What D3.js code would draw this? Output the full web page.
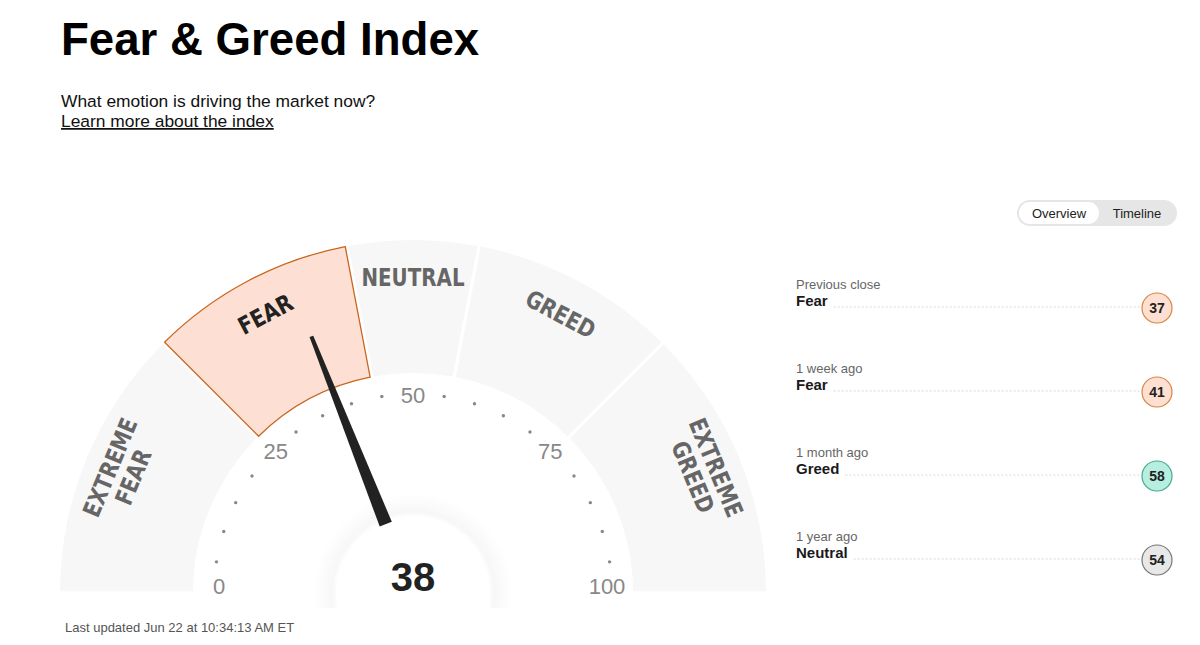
<!DOCTYPE html>
<html>
<head>
<meta charset="utf-8">
<title>Fear & Greed Index</title>
<script src="https://d3js.org/d3.v7.min.js"></script>
<style>
  body { margin: 0; background: #fff; font-family: "Liberation Sans", Arial, sans-serif; }
  svg { display: block; }
  .zone-label { font-family: "DejaVu Sans Condensed", "DejaVu Sans", sans-serif; font-stretch: condensed; font-weight: bold; }
</style>
</head>
<body>
<div id="chart"></div>
<script>
// ---- data ----
const zoneNames = ["EXTREME FEAR", "FEAR", "NEUTRAL", "GREED", "EXTREME GREED"];
const zoneBreaks = [0, 25, 44, 56, 75, 100];
const currentScore = 38;
const currentZone = "FEAR";
const tickValues = [0, 25, 50, 75, 100];
const dotValues = [5, 10, 15, 20, 30, 35, 40, 45, 55, 60, 65, 70, 80, 85, 90, 95];
const historyLabels = ["Previous close", "1 week ago", "1 month ago", "1 year ago"];
const historyRatings = ["Fear", "Fear", "Greed", "Neutral"];
const historyScores = [37, 41, 58, 54];

// badge colours per rating
const ratingColors = {
  "Fear":    { fill: "#fde0d2", stroke: "#d98441" },
  "Greed":   { fill: "#b6efe0", stroke: "#44a98d" },
  "Neutral": { fill: "#e8e8e8", stroke: "#777" }
};

const W = 1200, H = 645;
const svg = d3.select("#chart").append("svg").attr("width", W).attr("height", H);

// ---- header ----
svg.append("text").attr("x", 61).attr("y", 55)
  .attr("font-size", 45.6).attr("font-weight", "bold").attr("fill", "#000")
  .text("Fear & Greed Index");
svg.append("text").attr("x", 61).attr("y", 107)
  .attr("font-size", 17.4).attr("fill", "#111")
  .text("What emotion is driving the market now?");
svg.append("text").attr("x", 61).attr("y", 127)
  .attr("font-size", 17.4).attr("fill", "#111").attr("text-decoration", "underline")
  .text("Learn more about the index");

// ---- gauge ----
const cx = 413, cy = 593, rOuter = 353, rInner = 220;
const angle = d3.scaleLinear().domain([0, 100]).range([-Math.PI / 2, Math.PI / 2]);
const deg = v => angle(v) * 180 / Math.PI;
const polar = (v, r) => [cx + r * Math.sin(angle(v)), cy - r * Math.cos(angle(v))];

const g = svg.append("g");

const zones = zoneNames.map((name, i) => ({ name, start: zoneBreaks[i], end: zoneBreaks[i + 1] }));

const arc = d3.arc()
  .innerRadius(rInner).outerRadius(rOuter)
  .padAngle(0.011).padRadius(300)
  .startAngle(d => angle(d.start)).endAngle(d => angle(d.end));

g.selectAll("path.zone").data(zones).join("path")
  .attr("class", "zone")
  .attr("transform", `translate(${cx},${cy})`)
  .attr("d", arc)
  .attr("fill", d => d.name === currentZone ? "#fde0d3" : "#f7f7f7")
  .attr("stroke", d => d.name === currentZone ? "#c8661e" : "none")
  .attr("stroke-width", 1.3);

// zone labels, rotated along the arc
const labelR = 316;
zones.forEach(z => {
  const mid = (z.start + z.end) / 2;
  const [x, y] = polar(mid, labelR);
  const words = z.name.split(" ");
  const t = g.append("text")
    .attr("class", "zone-label")
    .attr("transform", `translate(${x},${y}) rotate(${deg(mid)}) scale(0.92,1)`)
    .attr("text-anchor", "middle")
    .attr("font-size", 24)
    .attr("fill", z.name === currentZone ? "#222" : "#666");
  const lh = 25;
  words.forEach((w, i) => {
    t.append("tspan").attr("x", 0)
      .attr("y", (i - (words.length - 1) / 2) * lh + 9)
      .text(w);
  });
});

// tick dots
g.selectAll("circle.dot").data(dotValues).join("circle")
  .attr("class", "dot")
  .attr("cx", d => polar(d, 199)[0])
  .attr("cy", d => polar(d, 199)[1])
  .attr("r", 1.7).attr("fill", "#888");

// tick labels
g.selectAll("text.tick").data(tickValues).join("text")
  .attr("class", "tick")
  .attr("x", d => cx + 194 * Math.sin(angle(d)))
  .attr("y", d => (cy - 7) - 191 * Math.cos(angle(d)))
  .attr("dy", "0.36em")
  .attr("text-anchor", "middle")
  .attr("font-size", 22).attr("fill", "#888")
  .text(d => d);

// hub shading
const defs = svg.append("defs");
const grad = defs.append("radialGradient").attr("id", "hub");
grad.append("stop").attr("offset", "0.76").attr("stop-color", "#fff");
grad.append("stop").attr("offset", "0.81").attr("stop-color", "#f7f7f7");
grad.append("stop").attr("offset", "0.9").attr("stop-color", "#fbfbfb");
grad.append("stop").attr("offset", "1").attr("stop-color", "#fff");
defs.append("clipPath").attr("id", "hubclip")
  .append("rect").attr("x", cx - 110).attr("y", cy - 110).attr("width", 220).attr("height", 125);
g.append("circle").attr("cx", cx).attr("cy", cy).attr("r", 100)
  .attr("fill", "url(#hub)").attr("clip-path", "url(#hubclip)");

// needle
const baseR = 74, tipR = 276;
g.append("path")
  .attr("transform", `translate(${cx},${cy}) rotate(${deg(currentScore)})`)
  .attr("d", `M${-6.5},${-baseR} L${-2},${-tipR} L${2},${-tipR} L${6.5},${-baseR} Z`)
  .attr("fill", "#222");

// score
g.append("text").attr("x", cx).attr("y", cy - 2)
  .attr("text-anchor", "middle")
  .attr("font-size", 40).attr("font-weight", "bold").attr("fill", "#222")
  .text(currentScore);

svg.append("text").attr("x", 65).attr("y", 632)
  .attr("font-size", 13).attr("fill", "#555")
  .text("Last updated Jun 22 at 10:34:13 AM ET");

// ---- toggle ----
const tog = svg.append("g");
tog.append("rect").attr("x", 1017).attr("y", 200).attr("width", 160).attr("height", 26)
  .attr("rx", 13).attr("fill", "#e6e6e6");
tog.append("rect").attr("x", 1019).attr("y", 202).attr("width", 80).attr("height", 22)
  .attr("rx", 11).attr("fill", "#fff");
tog.append("text").attr("x", 1059).attr("y", 217.5).attr("text-anchor", "middle")
  .attr("font-size", 13).attr("fill", "#222").text("Overview");
tog.append("text").attr("x", 1137).attr("y", 217.5).attr("text-anchor", "middle")
  .attr("font-size", 13).attr("fill", "#222").text("Timeline");

// ---- history list ----
const rowY = d3.scalePoint().domain(historyLabels).range([289, 541]);
const badgeX = 1157;
historyLabels.forEach((lab, i) => {
  const y0 = rowY(lab);
  const row = svg.append("g");
  row.append("text").attr("x", 796).attr("y", y0)
    .attr("font-size", 13).attr("fill", "#666").text(lab);
  const rt = row.append("text").attr("x", 796).attr("y", y0 + 17)
    .attr("font-size", 15).attr("font-weight", "bold").attr("fill", "#1a1a1a")
    .text(historyRatings[i]);
  const tw = rt.node().getComputedTextLength();
  row.append("line")
    .attr("x1", 796 + tw + 6).attr("x2", badgeX - 16)
    .attr("y1", y0 + 18).attr("y2", y0 + 18)
    .attr("stroke", "#d8d8d8").attr("stroke-width", 1).attr("stroke-dasharray", "2,2");
  const c = ratingColors[historyRatings[i]];
  row.append("circle").attr("cx", badgeX).attr("cy", y0 + 19).attr("r", 15)
    .attr("fill", c.fill).attr("stroke", c.stroke).attr("stroke-width", 1.2);
  row.append("text").attr("x", badgeX).attr("y", y0 + 19).attr("dy", "0.36em")
    .attr("text-anchor", "middle").attr("font-size", 14).attr("font-weight", "bold")
    .attr("fill", "#222").text(historyScores[i]);
});
</script>
</body>
</html>
